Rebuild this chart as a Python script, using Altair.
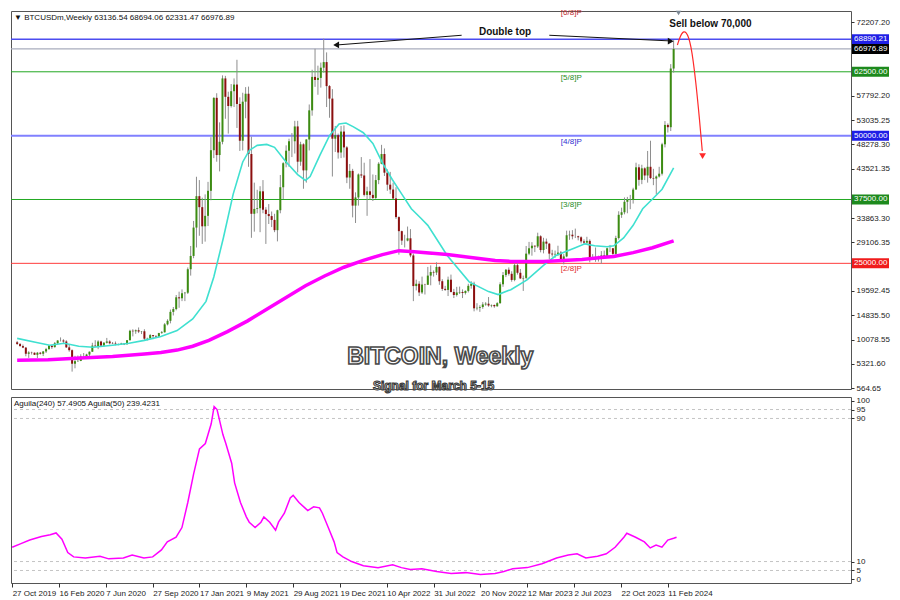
import altair as alt
import pandas as pd

# ---------------- data (weekly BTCUSD candles) ----------------
first_open = 9550

close = [
    9200, 8800, 8500, 7300, 7550, 7500, 7100, 7500, 7300, 7750,
    8200, 8900, 8600, 9350, 9900, 9900, 9700, 8550, 8000, 5350,
    5850, 5900, 6800, 6850, 7150, 7700, 8900, 8750, 9700, 8900,
    9450, 9700, 9350, 9300, 9150, 9100, 9300, 9150, 9950, 11800,
    11700, 11900, 11650, 11700, 10250, 10300, 10950, 10750, 10650, 11350,
    11500, 13050, 13750, 15500, 16050, 18350, 18150, 19150, 19250, 23850,
    26450, 32000, 38150, 36000, 32250, 34300, 39200, 47150, 57400, 46200,
    48800, 61200, 57600, 55800, 58700, 60000, 56200, 49000, 56650, 58200,
    46400, 34700, 35650, 35800, 39100, 35500, 34650, 34250, 33500, 31500,
    35400, 39900, 44600, 47050, 48900, 48900, 51800, 44900, 48300, 43200,
    49250, 54950, 61500, 60900, 61300, 63300, 64400, 59700, 57250, 49400,
    50100, 46700, 50800, 47700, 41800, 43100, 36300, 37900, 42400, 42200,
    38400, 39100, 38400, 37800, 41300, 44500, 46400, 42750, 40400, 39450,
    37700, 34050, 31300, 29450, 29450, 29900, 26550, 20550, 21000, 19300,
    20850, 20800, 22600, 23300, 23200, 24300, 21500, 20000, 19800, 21800,
    19400, 18800, 19300, 19400, 19200, 19600, 20600, 21000, 16200, 16300,
    16450, 16950, 17100, 16750, 16850, 16600, 17200, 20900, 22700, 23750,
    22950, 21750, 24650, 23150, 22050, 22150, 26900, 27950, 28450, 28300,
    30300, 27600, 29250, 28850, 26900, 26750, 26850, 27100, 25850, 26350,
    30500, 30600, 30300, 30300, 30100, 29300, 29050, 29400, 26100, 26000,
    25850, 25850, 26550, 26250, 27950, 27950, 26850, 29950, 34500, 35000,
    37050, 37400, 37450, 39450, 43800, 41350, 43600, 42200, 43900, 41700,
    41600, 42000, 42550, 48300, 52100, 51650, 63136.54, 66976.89,
]

high = [
    9800, 9400, 9100, 8600, 7800, 7700, 7550, 7650, 7650, 7850,
    8450, 9000, 8900, 9600, 9950, 10500, 10150, 9950, 9200, 8150,
    6900, 6950, 7200, 7450, 7300, 7750, 9450, 9950, 9950, 9850,
    9600, 10400, 9950, 9600, 9700, 9300, 9450, 9350, 9990, 12000,
    12100, 12050, 12450, 11750, 12100, 10450, 11150, 10950, 10950, 11400,
    11750, 13300, 14050, 15950, 16450, 18800, 19450, 19900, 19400, 24200,
    28400, 33300, 41950, 41300, 37850, 38500, 40950, 49700, 57500, 58300,
    52600, 61800, 61700, 58600, 60100, 61200, 64850, 57500, 58400, 59500,
    59600, 49800, 40800, 39400, 40100, 41300, 36000, 36600, 35150, 34700,
    35500, 42300, 44800, 48100, 49400, 50500, 52900, 52900, 48800, 48500,
    49300, 56100, 62900, 67000, 63700, 64300, 68990, 66300, 59900, 59100,
    51900, 50400, 51900, 52000, 47950, 44450, 43500, 38900, 42600, 45800,
    44700, 40000, 45400, 42400, 42300, 44800, 48200, 47500, 43400, 42900,
    40800, 39900, 34200, 31400, 30600, 32200, 31700, 26900, 21800, 21500,
    22400, 21000, 24300, 24600, 23600, 25200, 24400, 21900, 20600, 22400,
    22800, 20000, 20400, 20450, 19900, 19700, 21000, 21500, 21400, 17200,
    16800, 17400, 17400, 18400, 16950, 16950, 17400, 21300, 23300, 23900,
    24200, 23450, 25200, 25250, 23900, 22600, 28400, 29200, 29150, 28500,
    31000, 30500, 30000, 29850, 29000, 27650, 27500, 28450, 27400, 26800,
    31400, 31400, 31500, 31800, 30400, 30300, 29700, 30200, 29700, 26800,
    28100, 26500, 27400, 27500, 28050, 28600, 28000, 30400, 35200, 35900,
    37900, 38000, 38400, 39800, 44700, 44400, 44300, 43800, 47000, 49000,
    43500, 42200, 43900, 48600, 52850, 52400, 64000, 68694.06,
]

low = [
    9050, 8700, 8400, 6800, 6500, 7150, 7050, 6450, 7150, 6850,
    7450, 8100, 8250, 8500, 9150, 9700, 9300, 8450, 7700, 3800,
    4450, 5700, 5850, 6750, 6500, 6850, 7650, 8700, 8200, 8800,
    8650, 9300, 9150, 9200, 8950, 8950, 9050, 9000, 9150, 9900,
    10700, 11200, 11350, 11150, 9900, 9900, 10250, 10150, 10450, 10550,
    11200, 11450, 12850, 13250, 14800, 15800, 16300, 17600, 17600, 19000,
    22600, 26000, 28100, 30400, 28800, 29250, 32300, 37350, 45600, 44900,
    43000, 48300, 53300, 50400, 55500, 55600, 51500, 47000, 47100, 53400,
    43900, 30000, 31200, 34800, 31100, 34800, 28800, 32700, 32100, 31100,
    29300, 34800, 37600, 43800, 43900, 45800, 46500, 42800, 44100, 39600,
    40800, 47100, 53900, 59550, 58000, 59400, 62300, 55600, 53500, 42000,
    46800, 45500, 45600, 45700, 40700, 39600, 34000, 32900, 36300, 41700,
    38100, 34300, 37500, 37200, 37600, 40500, 44400, 42100, 39200, 38600,
    37600, 33700, 26700, 28600, 28100, 29300, 26200, 17600, 19700, 18600,
    19000, 18900, 20800, 20700, 22400, 22700, 20800, 19600, 19600, 18600,
    19300, 18200, 18500, 19000, 18200, 18900, 19300, 20050, 15600, 15800,
    15500, 16100, 16700, 16500, 16400, 16300, 16500, 17100, 20400, 22300,
    22600, 21400, 21500, 22800, 21950, 19600, 21900, 26600, 26500, 27200,
    28000, 27150, 26950, 27800, 25850, 26300, 26100, 26500, 25400, 24800,
    26200, 29600, 29700, 29950, 29500, 28900, 28600, 28700, 25200, 25800,
    25300, 25350, 24900, 26000, 26050, 27200, 26550, 26600, 29650, 33900,
    34600, 34800, 35600, 36700, 39400, 40200, 40500, 41300, 40800, 41500,
    40300, 38500, 41800, 42200, 47700, 50600, 50900, 62331.47,
]

# fast moving average (cyan)
ma_fast_week = [0, 6.3, 11.3, 16.3, 21.3, 26.3, 33, 38.7, 44, 49.7, 55.3, 60.7, 65.3, 68, 71.3,
                74.7, 78, 80.3, 83, 86.3, 89, 93, 97, 99.7, 101.3, 104.7, 108, 111.3, 113.7,
                116.3, 119.7, 123, 126.3, 129.7, 133, 136.3, 139.7, 142, 148.7, 156.3, 163,
                166.3, 170.7, 176.3, 182, 186.3, 193, 196.3, 199.7, 204, 206.3, 209.7, 213,
                216.3, 219.7, 223, 227]
ma_fast_price = [10305, 9542, 8969, 9351, 8779, 8588, 8969, 9351, 9924, 10687, 11832, 14122, 17557,
                 22328, 29962, 38550, 44847, 47137, 48092, 48282, 47710, 44847, 42366, 41221,
                 41985, 46183, 50000, 52290, 52481, 51718, 50573, 48473, 44656, 41412, 38550,
                 35687, 33779, 32443, 26527, 21374, 19466, 18893, 19847, 21756, 24618, 26527,
                 28053, 28817, 28435, 28244, 28435, 29962, 32443, 35687, 37595, 39504, 43702]

# slow moving average (magenta)
ma_slow_week = [0, 10.7, 22, 33, 44, 49.7, 55.3, 60.7, 66.3, 72.7, 79.7, 86.3, 93, 99.7, 106.3,
                113, 119.7, 126.3, 132, 137.3, 148.7, 159.7, 165.3, 170.7, 176.3, 182, 188.7,
                195.3, 202, 206.3, 213, 219.7, 227]
ma_slow_price = [6011, 6107, 6489, 6775, 7252, 7538, 8015, 8779, 9924, 11641, 13740, 16031, 18321,
                 20611, 22519, 24237, 25573, 26718, 27481, 27290, 26718, 25954, 25573, 25382,
                 25382, 25382, 25573, 25763, 26145, 26336, 27099, 28053, 29389]

# Aguila oscillator (lower panel)
osc_week = [0, 3, 6, 10, 13, 15, 17, 19, 21, 25, 30, 33, 38, 41, 45, 48, 51, 53, 56, 58, 60, 62,
            64, 66, 68, 69, 70, 72, 73, 75, 76, 78, 80, 81, 83, 85, 86, 88, 90, 91, 93, 95, 96,
            98, 100, 101, 103, 105, 106, 108, 110, 111, 113, 116, 120, 125, 130, 133, 136, 140,
            145, 150, 155, 160, 165, 168, 171, 176, 181, 186, 190, 193, 196, 200, 203, 206, 209,
            210, 213, 216, 218, 220, 222, 224, 226, 227]
osc_value = [18, 20, 22, 24, 25, 26, 22.5, 15, 12.6, 12, 13, 11.5, 12, 13.7, 12, 12.6, 16.5, 21,
             23.6, 29, 43, 59, 73, 76, 87, 96.7, 95, 81, 76, 65, 54, 43, 35, 32, 29, 32, 35, 32,
             27.5, 32, 37, 45.6, 47, 43, 40, 38.5, 40.6, 40, 37, 29, 21, 15, 12.6, 10, 7.7, 6.6,
             8.2, 6.6, 5.5, 6, 4.4, 3.3, 3.8, 2.7, 3.3, 4.4, 6, 6.6, 8.8, 12, 13.7, 14.3, 12, 13,
             14.3, 18, 23.6, 25.8, 23.6, 21, 17.6, 19.2, 18, 22, 23, 23.6]

tick_weeks = [0, 16, 32, 48, 64, 80, 96, 112, 128, 144, 160, 176, 192, 208, 224]
tick_labels = ["27 Oct 2019", "16 Feb 2020", "7 Jun 2020", "27 Sep 2020", "17 Jan 2021",
               "9 May 2021", "29 Aug 2021", "19 Dec 2021", "10 Apr 2022", "31 Jul 2022",
               "20 Nov 2022", "12 Mar 2023", "2 Jul 2023", "22 Oct 2023", "11 Feb 2024"]

# axis labels (those hidden behind the level tags in the reference are left out)
price_ticks = [72207.20, 57792.20, 53035.25, 48278.30, 43521.35, 33863.30, 29106.35,
               19592.45, 14835.50, 10078.55, 5321.60, 564.65]
osc_ticks = [0, 5, 10, 90, 95, 100]
osc_grid = [5, 10, 90, 95]

level_values = [68890.21, 66976.89, 62500.00, 50000.00, 37500.00, 25000.00]
level_labels = ["68890.21", "66976.89", "62500.00", "50000.00", "37500.00", "25000.00"]
level_line_colors = ["#4c4cf0", "#a9adbd", "#22a822", "#8080ff", "#22a822", "#ff3b3b"]
level_line_widths = [1.5, 1.2, 1, 2, 1, 1]
level_tag_colors = ["#1f1fe6", "#000000", "#1d8a1d", "#1f1fe6", "#1d8a1d", "#f01c1c"]

murrey_values = [62500, 50000, 37500, 25000]
murrey_labels = ["[5/8]P", "[4/8]P", "[3/8]P", "[2/8]P"]
murrey_colors = ["#1e8c1e", "#3030d0", "#1e8c1e", "#e03030"]

header_text = "\u25bc BTCUSDm,Weekly  63136.54 68694.06 62331.47 66976.89"
osc_header = "Aguila(240) 57.4905  Aguila(50) 239.4231"

# ---------------- frames ----------------
n = len(close)
opens = [first_open] + close[:-1]
candles = pd.DataFrame({"week": list(range(n)), "open": opens, "high": high,
                        "low": low, "close": close})
candles["dir"] = ["up" if c >= o else "down" for o, c in zip(opens, close)]

fast_df = pd.DataFrame({"week": ma_fast_week, "price": ma_fast_price})
slow_df = pd.DataFrame({"week": ma_slow_week, "price": ma_slow_price})
osc_df = pd.DataFrame({"week": osc_week, "value": osc_value})
levels_df = pd.DataFrame({"level": level_values, "label": level_labels,
                          "lc": level_line_colors, "lw": level_line_widths,
                          "tc": level_tag_colors})
murrey_df = pd.DataFrame({"level": murrey_values, "label": murrey_labels,
                          "c": murrey_colors, "week": [188] * 4})

W = 840
H1 = 378
H2 = 186
FONT = "Liberation Sans"

xscale = alt.Scale(domain=[-0.4, 286.6], nice=False, zero=False)
pscale = alt.Scale(domain=[400, 74400], nice=False, zero=False)
oscale = alt.Scale(domain=[-2, 102], nice=False, zero=False)

price_axis = alt.Axis(orient="right", values=price_ticks, format=".2f", labelFontSize=8,
                      labelFont=FONT, tickSize=3, tickColor="#333", labelColor="#222",
                      grid=False, domain=False, title=None, labelPadding=2,
                      labelOverlap=False, labelFlush=False)

X = alt.X("week:Q", scale=xscale, axis=None)


def PY(field):
    return alt.Y(field, type="quantitative", scale=pscale, axis=price_axis, title=None)


level_lines = alt.Chart(levels_df).mark_rule().encode(
    y=PY("level"),
    color=alt.Color("lc:N", scale=None),
    strokeWidth=alt.StrokeWidth("lw:Q", scale=None),
)

wicks = alt.Chart(candles).mark_rule(color="#8e8e8e", strokeWidth=1).encode(
    x=X, y=PY("low"), y2="high")

bodies = alt.Chart(candles).mark_bar(size=2).encode(
    x=X, y=PY("open"), y2="close",
    color=alt.Color("dir:N", scale=alt.Scale(domain=["up", "down"],
                                             range=["#3c8c12", "#8c0f0f"]), legend=None),
)

fast_line = alt.Chart(fast_df).mark_line(color="#3fe0d0", strokeWidth=1.6).encode(
    x=X, y=PY("price"))
slow_line = alt.Chart(slow_df).mark_line(color="#ff00ff", strokeWidth=3.5).encode(
    x=X, y=PY("price"))

tags = alt.Chart(levels_df).mark_rect(yOffset=-5, y2Offset=5).encode(
    x=alt.value(W + 1), x2=alt.value(W + 38), y=PY("level"), y2="level",
    color=alt.Color("tc:N", scale=None))
tag_text = alt.Chart(levels_df).mark_text(align="left", baseline="middle", fontSize=8,
                                          font=FONT, color="white").encode(
    x=alt.value(W + 3), y=PY("level"), text="label:N")

murrey_text = alt.Chart(murrey_df).mark_text(align="left", baseline="top", dy=2, fontSize=8,
                                             font=FONT).encode(
    x=X, y=PY("level"), text="label:N", color=alt.Color("c:N", scale=None))
top_murrey = alt.Chart(pd.DataFrame({"week": [188], "t": ["[6/8]P"]})).mark_text(
    align="left", baseline="middle", fontSize=8, font=FONT, color="#c03030").encode(
    x=X, y=alt.value(2), text="t:N")

# annotations ("Double top" arrows, "Sell below" curved arrow)
ann_text = pd.DataFrame({"week": [168.7, 239.7], "price": [70230, 71950],
                         "t": ["Double top", "Sell below 70,000"]})
ann_text_layer = alt.Chart(ann_text).mark_text(fontSize=10, fontWeight="bold", font=FONT,
                                               color="#111").encode(
    x=X, y=PY("price"), text="t:N")

arrow_segs = pd.DataFrame({"seg": ["a", "a", "b", "b"],
                           "week": [153.7, 110.5, 184.0, 225.6],
                           "price": [69650, 67750, 69650, 68550]})
arrow_lines = alt.Chart(arrow_segs).mark_line(color="#111", strokeWidth=1).encode(
    x=X, y=PY("price"), detail="seg:N")
heads = pd.DataFrame({"week": [110.3, 226.0], "price": [67750, 68500],
                      "shape": ["triangle-left", "triangle-right"]})
arrow_heads = alt.Chart(heads).mark_point(filled=True, color="#111", size=45, opacity=1).encode(
    x=X, y=PY("price"), shape=alt.Shape("shape:N", scale=None))

curve = pd.DataFrame({"week": [228.3, 229.7, 231.3, 233.0, 234.7, 236.0, 236.9],
                      "price": [67750, 70230, 70610, 68130, 60500, 52860, 47000]})
curve_line = alt.Chart(curve).mark_line(color="#ff2a2a", strokeWidth=1.2,
                                        interpolate="basis").encode(x=X, y=PY("price"))
curve_head = alt.Chart(pd.DataFrame({"week": [237.0], "price": [46000]})).mark_point(
    shape="triangle-down", filled=True, color="#ff2a2a", size=45, opacity=1).encode(
    x=X, y=PY("price"))

marker = alt.Chart(pd.DataFrame({"week": [228.7]})).mark_point(
    shape="triangle-down", filled=True, color="#7b8794", size=30, opacity=1).encode(
    x=X, y=alt.value(2))

header = alt.Chart(pd.DataFrame({"t": [header_text]})).mark_text(
    align="left", baseline="top", fontSize=8, font=FONT, color="#111").encode(
    x=alt.value(3), y=alt.value(3), text="t:N")

titles = pd.DataFrame({"week": [146.3], "price": [6680], "t": ["BITCOIN, Weekly"]})
subtitles = pd.DataFrame({"week": [144.0], "price": [950], "t": ["Signal for March 5-15"]})
title_main = alt.Chart(titles).mark_text(fontSize=23, fontWeight="bold", font=FONT,
                                         color="white", stroke="#4a4a4a",
                                         strokeWidth=1.6).encode(
    x=X, y=PY("price"), text="t:N")
sub_main = alt.Chart(subtitles).mark_text(fontSize=12, fontWeight="bold", font=FONT,
                                          color="white", stroke="#3a3a3a",
                                          strokeWidth=1.1).encode(
    x=X, y=PY("price"), text="t:N")

price_panel = alt.layer(
    level_lines, wicks, bodies, fast_line, slow_line, tags, tag_text, murrey_text, top_murrey,
    arrow_lines, arrow_heads, ann_text_layer, curve_line, curve_head, marker, header,
    title_main, sub_main,
).properties(width=W, height=H1)

# ---------------- lower panel ----------------
label_expr = "[" + ",".join("'" + s + "'" for s in tick_labels) + "][round(datum.value / 16)]"
osc_x_axis = alt.Axis(values=tick_weeks, labelExpr=label_expr, labelAlign="left",
                      labelFontSize=8, labelFont=FONT, labelColor="#222", tickSize=4,
                      tickColor="#333", grid=False, domain=False, title=None, labelPadding=2,
                      labelOverlap=False, labelFlush=False)
osc_y_axis = alt.Axis(orient="right", values=osc_ticks, labelFontSize=8, labelFont=FONT,
                      labelColor="#222", tickSize=3, tickColor="#333", grid=False,
                      domain=False, title=None, labelPadding=2, labelOverlap=False)
OX = alt.X("week:Q", scale=xscale, axis=osc_x_axis, title=None)


def OY(field):
    return alt.Y(field, type="quantitative", scale=oscale, axis=osc_y_axis, title=None)


grid_df = pd.DataFrame({"v": osc_grid})
osc_grid_layer = alt.Chart(grid_df).mark_rule(color="#c4c4c4", strokeDash=[3, 3],
                                              strokeWidth=1).encode(y=OY("v"))
osc_line = alt.Chart(osc_df).mark_line(color="#ff00ff", strokeWidth=1.5).encode(
    x=OX, y=OY("value"))
osc_head = alt.Chart(pd.DataFrame({"t": [osc_header]})).mark_text(
    align="left", baseline="top", fontSize=8, font=FONT, color="#111").encode(
    x=alt.value(3), y=alt.value(3), text="t:N")

osc_panel = alt.layer(osc_grid_layer, osc_line, osc_head).properties(width=W, height=H2)

chart = alt.vconcat(price_panel, osc_panel, spacing=3).properties(
    padding={"left": 0, "top": 0, "right": 2, "bottom": 2},
    background="white",
).configure_view(stroke="#555", strokeWidth=1)

chart.save("out.html", embed_options={"renderer": "svg", "actions": False})
